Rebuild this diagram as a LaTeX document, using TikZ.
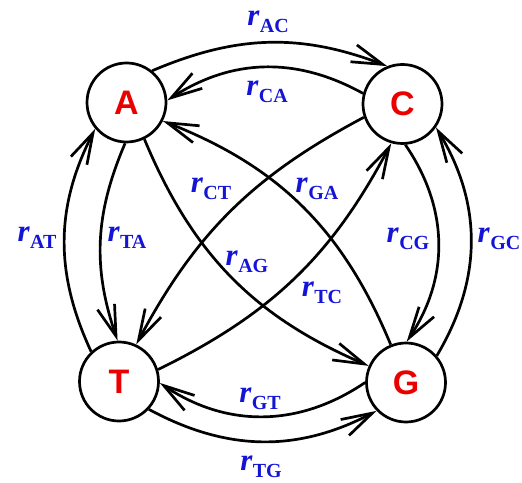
\documentclass[tikz,border=0pt]{standalone}
\usepackage{fontspec}
\setmainfont{Liberation Serif}
\setsansfont{Liberation Sans}
\usetikzlibrary{arrows.meta}
\definecolor{lblue}{RGB}{20,20,215}
\definecolor{lred}{RGB}{235,0,0}
\newcommand{\rlab}[1]{{\fontsize{31pt}{31pt}\selectfont\bfseries\itshape r}\kern0.5pt\raisebox{-7pt}{\fontsize{20pt}{20pt}\selectfont\bfseries #1}}
\begin{document}
\begin{tikzpicture}[x=1pt,y=1pt,
  state/.style={circle,draw,line width=2.7pt,minimum size=79pt,inner sep=0pt,
    font=\fontsize{34pt}{34pt}\selectfont\sffamily\bfseries,text=lred},
  flow/.style={line width=2.7pt,-{Straight Barb[length=31pt,width=18pt]}},
  rate/.style={inner sep=0pt,text=lblue}]
\useasboundingbox (0,0) rectangle (522,482);
\node[state] (A) at (126.5,379.5) {A};
\node[state] (C) at (402.5,378) {C};
\node[state] (T) at (119,100.5) {T};
\node[state] (G) at (406,99.5) {G};
% outer / inner pairs
\draw[flow] (A.51) to[bend left=22] (C.112);
\draw[flow] (C.165) to[bend right=31] (A.3);
\draw[flow] (T.133) to[bend left=26] (A.220);
\draw[flow] (A.268) to[bend right=21] (T.92);
\draw[flow] (C.274) to[bend left=34] (G.89);
\draw[flow] (G.41) to[bend right=31] (C.325);
\draw[flow] (G.180) to[bend left=34] (T.358);
\draw[flow] (T.317) to[bend right=28] (G.224);
% diagonals
\draw[flow] (C.199) to[bend right=17] (T.65);
\draw[flow] (G.112) to[bend right=23] (A.333);
\draw[flow] (A.296) to[bend right=22] (G.156);
\draw[flow] (T.17) to[bend right=18] (C.254);
% labels
\node[rate] (lAC) at (268,460) {\rlab{AC}};
\node[rate] (lCA) at (267,390) {\rlab{CA}};
\node[rate] (lCT) at (211,293) {\rlab{CT}};
\node[rate] (lGA) at (317,293) {\rlab{GA}};
\node[rate] (lAT) at (37,244.5) {\rlab{AT}};
\node[rate] (lTA) at (127,244.5) {\rlab{TA}};
\node[rate] (lAG) at (247,220) {\rlab{AG}};
\node[rate] (lTC) at (322,189) {\rlab{TC}};
\node[rate] (lCG) at (408,243) {\rlab{CG}};
\node[rate,anchor=east] (lGC) at (520.5,243) {\rlab{GC}};
\node[rate] (lGT) at (260,83) {\rlab{GT}};
\node[rate] (lTG) at (261,15) {\rlab{TG}};
\end{tikzpicture}
\end{document}
